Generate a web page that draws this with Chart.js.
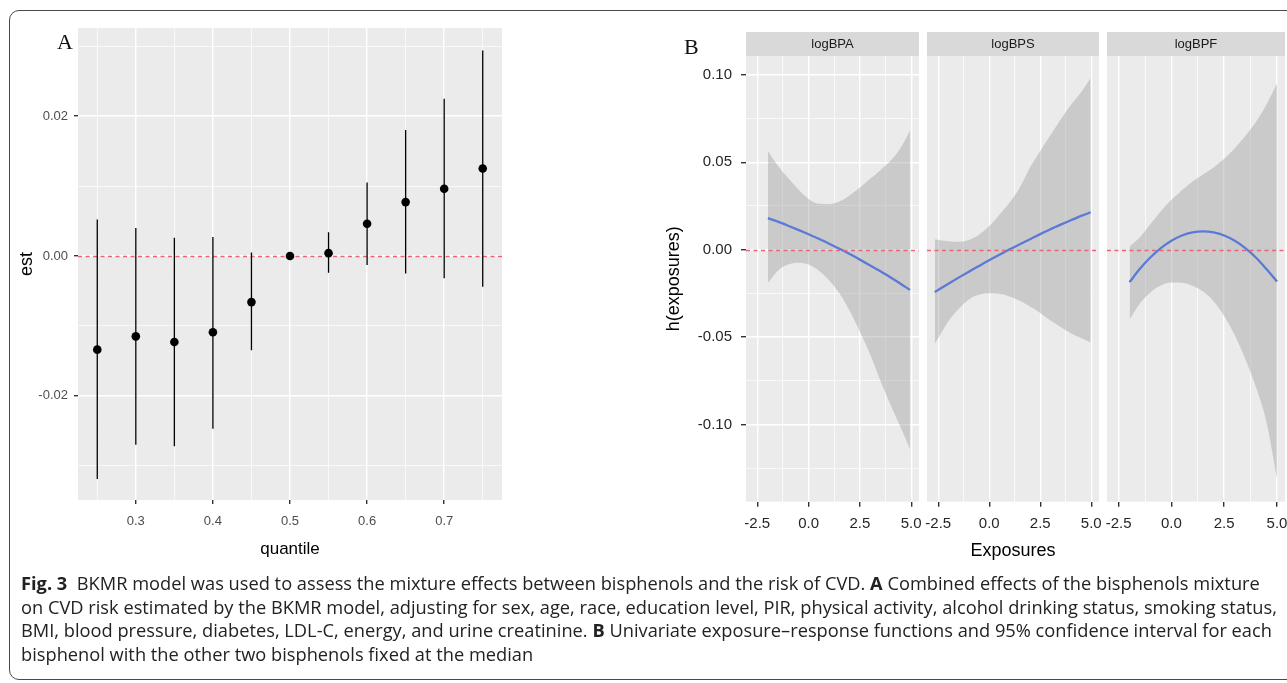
<!DOCTYPE html>
<html><head><meta charset="utf-8">
<script src="https://cdn.jsdelivr.net/npm/chart.js@4.4.1/dist/chart.umd.min.js"></script>
<style>
html,body{margin:0;padding:0;background:#fff;width:1287px;height:683px;overflow:hidden;position:relative;font-family:'Liberation Sans',Arial,sans-serif;}
.frame{position:absolute;left:9px;top:10px;width:1300px;height:670px;border:1.3px solid #4a4a4a;border-radius:10px;box-sizing:border-box;}
canvas{position:absolute;top:0;}
.plabel{position:absolute;font-family:'Liberation Serif','Times New Roman',serif;font-size:22px;color:#111;line-height:1;}
.cap{position:absolute;left:21px;font-family:'Open Sans',sans-serif;font-size:18.5px;color:#222;white-space:nowrap;transform-origin:0 50%;line-height:1;}
</style></head>
<body>
<div class="frame"></div>
<canvas id="cA" width="520" height="570" style="left:0px"></canvas>
<canvas id="cB1" width="264" height="580" style="left:660px"></canvas>
<canvas id="cB2" width="182" height="580" style="left:922px"></canvas>
<canvas id="cB3" width="185" height="580" style="left:1102px"></canvas>
<div class="plabel" style="left:57px;top:31px">A</div>
<div class="plabel" style="left:684px;top:36px">B</div>
<div class="cap" id="l1" style="top:574px"><b>Fig. 3</b>&nbsp; BKMR model was used to assess the mixture effects between bisphenols and the risk of CVD. <b>A</b> Combined effects of the bisphenols mixture</div>
<div class="cap" id="l2" style="top:597.7px">on CVD risk estimated by the BKMR model, adjusting for sex, age, race, education level, PIR, physical activity, alcohol drinking status, smoking status,</div>
<div class="cap" id="l3" style="top:621.4px">BMI, blood pressure, diabetes, LDL-C, energy, and urine creatinine. <b>B</b> Univariate exposure–response functions and 95% confidence interval for each</div>
<div class="cap" id="l4" style="top:645px">bisphenol with the other two bisphenols fixed at the median</div>
<script>
// ---------- Panel A data ----------
const quantiles = [0.25, 0.30, 0.35, 0.40, 0.45, 0.50, 0.55, 0.60, 0.65, 0.70, 0.75];
const est       = [-0.0134, -0.0115, -0.0123, -0.0109, -0.0066, 0.0000, 0.0004, 0.0046, 0.0077, 0.0096, 0.0125];
const lower95   = [-0.0319, -0.0270, -0.0272, -0.0247, -0.0135, -0.0002, -0.0024, -0.0013, -0.0025, -0.0032, -0.0044];
const upper95   = [0.0052, 0.0040, 0.0026, 0.0027, 0.0005, 0.0002, 0.0034, 0.0105, 0.0180, 0.0225, 0.0294];
const xMajorA = [0.3, 0.4, 0.5, 0.6, 0.7];
const xMinorA = [0.25, 0.35, 0.45, 0.55, 0.65, 0.75];
const yMajorA = [-0.02, 0.00, 0.02];
const yMinorA = [-0.03, -0.01, 0.01, 0.03];

// ---------- Panel B data ----------
const facetNames = ['logBPA', 'logBPS', 'logBPF'];
const bpaX     = [-1.98, -1.5, -1, -0.5, 0, 0.5, 1, 1.5, 2, 2.5, 3, 3.5, 4, 4.5, 4.94];
const bpaEst   = [0.0180, 0.0160, 0.0137, 0.0113, 0.0088, 0.0062, 0.0034, 0.0005, -0.0025, -0.0057, -0.0090, -0.0124, -0.0159, -0.0196, -0.0230];
const bpaUpper = [0.0565, 0.0480, 0.0410, 0.0345, 0.0290, 0.0262, 0.0260, 0.0275, 0.0310, 0.0355, 0.0405, 0.0455, 0.0510, 0.0585, 0.0680];
const bpaLower = [-0.0190, -0.0120, -0.0085, -0.0075, -0.0085, -0.0120, -0.0175, -0.0250, -0.0350, -0.0470, -0.0600, -0.0750, -0.0890, -0.1020, -0.1140];
const bpsX     = [-2.67, -2, -1.5, -1, -0.5, 0, 0.5, 1, 1.5, 2, 2.5, 3, 3.5, 4, 4.5, 4.97];
const bpsEst   = [-0.0243, -0.0195, -0.0160, -0.0126, -0.0093, -0.0060, -0.0029, 0.0002, 0.0031, 0.0060, 0.0089, 0.0117, 0.0143, 0.0168, 0.0193, 0.0214];
const bpsUpper = [0.0060, 0.0048, 0.0045, 0.0055, 0.0085, 0.0135, 0.0200, 0.0270, 0.0355, 0.0470, 0.0565, 0.0655, 0.0745, 0.0827, 0.0900, 0.0980];
const bpsLower = [-0.0540, -0.0410, -0.0340, -0.0285, -0.0258, -0.0250, -0.0252, -0.0268, -0.0292, -0.0325, -0.0362, -0.0405, -0.0442, -0.0478, -0.0505, -0.0530];
const bpfX     = [-1.98, -1.5, -1, -0.5, 0, 0.5, 1, 1.5, 2, 2.5, 3, 3.5, 4, 4.5, 5.0];
const bpfEst   = [-0.0186, -0.0111, -0.0045, 0.0009, 0.0051, 0.0081, 0.0099, 0.0105, 0.0099, 0.0081, 0.0051, 0.0009, -0.0045, -0.0111, -0.0182];
const bpfUpper = [0.0020, 0.0070, 0.0145, 0.0220, 0.0285, 0.0340, 0.0390, 0.0430, 0.0470, 0.0520, 0.0580, 0.0650, 0.0730, 0.0830, 0.0950];
const bpfLower = [-0.0400, -0.0310, -0.0245, -0.0205, -0.0188, -0.0190, -0.0207, -0.0240, -0.0295, -0.0380, -0.0490, -0.0625, -0.0785, -0.0985, -0.1310];
const xMajorB = [-2.5, 0.0, 2.5, 5.0];
const xMinorB = [-1.25, 1.25, 3.75];
const yMajorB = [-0.10, -0.05, 0.00, 0.05, 0.10];
const yMinorB = [-0.125, -0.075, -0.025, 0.025, 0.075];

// ---------- helpers ----------
Chart.defaults.animation = false;
Chart.defaults.responsive = false;
Chart.defaults.devicePixelRatio = 1;
Chart.defaults.font.family = "'Liberation Sans', Arial, sans-serif";
const isIn = (v, arr) => arr.some(m => Math.abs(m - v) < 1e-9);

const panelBg = {
  id: 'panelBg',
  beforeDraw(chart) {
    const {ctx, chartArea: a} = chart;
    ctx.save(); ctx.fillStyle = '#ebebeb';
    ctx.fillRect(a.left, a.top, a.width, a.height); ctx.restore();
  }
};
function drawZero(chart) {
  const {ctx, chartArea: a} = chart;
  const y = Math.round(chart.scales.y.getPixelForValue(0)) + 0.5;
  ctx.save(); ctx.strokeStyle = '#ea6677'; ctx.lineWidth = 1.3; ctx.setLineDash([4, 3.5]);
  ctx.beginPath(); ctx.moveTo(a.left, y); ctx.lineTo(a.right, y); ctx.stroke(); ctx.restore();
}
const zeroLine = {id: 'zeroLine', afterDatasetsDraw: drawZero};
const zeroLineBehind = {id: 'zeroLineA', beforeDatasetsDraw: drawZero};
const strip = {
  id: 'strip',
  afterDraw(chart, args, opts) {
    if (!opts || !opts.text) return;
    const {ctx, chartArea: a} = chart;
    ctx.save(); ctx.fillStyle = '#d9d9d9';
    ctx.fillRect(a.left, a.top - 24, a.width, 24);
    ctx.fillStyle = '#1a1a1a'; ctx.font = "13px 'Liberation Sans', Arial, sans-serif";
    ctx.textAlign = 'center'; ctx.textBaseline = 'middle';
    ctx.fillText(opts.text, (a.left + a.right) / 2, a.top - 11.5);
    ctx.restore();
  }
};

function gridScale(majors, minors, fmt, extra) {
  const all = majors.concat(minors).sort((a, b) => a - b);
  return Object.assign({
    type: 'linear',
    afterBuildTicks: s => { s.ticks = all.map(v => ({value: v})); },
    border: {display: false},
    grid: {
      color: '#ffffff',
      lineWidth: c => (c.tick && isIn(c.tick.value, majors)) ? 1.4 : 0.7,
      tickColor: c => (c.tick && isIn(c.tick.value, majors)) ? '#333333' : 'rgba(0,0,0,0)',
      drawTicks: true
    },
    ticks: {autoSkip: false, maxRotation: 0, minRotation: 0,
      callback: v => isIn(v, majors) ? fmt(v) : ''}
  }, extra || {});
}

// ---------- Panel A ----------
const errData = [];
quantiles.forEach((q, i) => {
  errData.push({x: q, y: lower95[i]}, {x: q, y: upper95[i]}, {x: q, y: null});
});
const ptData = quantiles.map((q, i) => ({x: q, y: est[i]}));

const xA = gridScale(xMajorA, xMinorA, v => v.toFixed(1), {min: 0.225, max: 0.775});
xA.grid.tickLength = 4;
xA.ticks.font = {size: 13}; xA.ticks.color = '#4d4d4d'; xA.ticks.padding = 10;
xA.title = {display: true, text: 'quantile', color: '#000', font: {size: 17}, padding: 0};
xA.afterFit = s => { s.height = 59.6; s.paddingLeft = 0; s.paddingRight = 0; };
const yA = gridScale(yMajorA, yMinorA, v => v.toFixed(2), {min: -0.0349, max: 0.0326});
yA.grid.tickLength = 4;
yA.ticks.font = {size: 13}; yA.ticks.color = '#4d4d4d'; yA.ticks.padding = 6;
yA.title = {display: true, text: 'est', color: '#000', font: {size: 18}, padding: 0};
yA.afterFit = s => { s.width = 62; s.paddingTop = 0; s.paddingBottom = 0; };

new Chart(document.getElementById('cA'), {
  type: 'scatter',
  data: {datasets: [
    {data: errData, showLine: true, spanGaps: false, borderColor: '#000', borderWidth: 1.3, pointRadius: 0},
    {data: ptData, pointRadius: 4.3, pointBackgroundColor: '#000', pointBorderWidth: 0}
  ]},
  options: {
    layout: {padding: {left: 16, top: 28, right: 18, bottom: 10.4}},
    plugins: {legend: {display: false}, tooltip: {enabled: false}},
    scales: {x: xA, y: yA}
  },
  plugins: [panelBg, zeroLineBehind]
});

// ---------- Panel B ----------
const facets = [
  {x: bpaX, e: bpaEst, u: bpaUpper, l: bpaLower},
  {x: bpsX, e: bpsEst, u: bpsUpper, l: bpsLower},
  {x: bpfX, e: bpfEst, u: bpfUpper, l: bpfLower}
];
const pads = [{left: 3.2, right: 5}, {left: 5, right: 5}, {left: 5, right: 2}];
['cB1', 'cB2', 'cB3'].forEach((id, k) => {
  const f = facets[k];
  const pts = arr => f.x.map((x, i) => ({x: x, y: arr[i]}));
  const xs = gridScale(xMajorB, xMinorB, v => v.toFixed(1), {min: -3.05, max: 5.38});
  xs.grid.tickLength = 5;
  xs.ticks.font = {size: 15}; xs.ticks.color = '#262626'; xs.ticks.padding = 8.3;
  xs.title = {display: k === 1, text: 'Exposures', color: '#000', font: {size: 18}, padding: 0};
  xs.afterFit = s => { s.height = 60.1; s.paddingLeft = 0; s.paddingRight = 0; };
  const ys = gridScale(yMajorB, yMinorB, v => v.toFixed(2), {min: -0.1442, max: 0.1108});
  ys.grid.tickLength = 5;
  ys.display = k === 0;
  ys.ticks.font = {size: 15}; ys.ticks.color = '#262626'; ys.ticks.padding = 9;
  ys.title = {display: k === 0, text: 'h(exposures)', color: '#000', font: {size: 18}, padding: 0};
  ys.afterFit = s => { s.width = (k === 0) ? 82.8 : 0; s.paddingTop = 0; s.paddingBottom = 0; };
  new Chart(document.getElementById(id), {
    type: 'line',
    data: {datasets: [
      {data: pts(f.u), fill: '+1', backgroundColor: 'rgba(153,153,153,0.4)', borderWidth: 0, pointRadius: 0, cubicInterpolationMode: 'monotone'},
      {data: pts(f.l), fill: false, borderWidth: 0, pointRadius: 0, cubicInterpolationMode: 'monotone'},
      {data: pts(f.e), fill: false, borderColor: '#3366FF', borderWidth: 2.3, pointRadius: 0, cubicInterpolationMode: 'monotone'}
    ]},
    options: {
      layout: {padding: {left: pads[k].left, right: pads[k].right, top: 56, bottom: 18.2}},
      plugins: {legend: {display: false}, tooltip: {enabled: false}, strip: {text: facetNames[k]}},
      scales: {x: xs, y: ys}
    },
    plugins: [panelBg, zeroLine, strip]
  });
});

// ---------- caption fitting ----------
document.fonts.ready.then(() => {
  const w2 = document.getElementById('l2').getBoundingClientRect().width;
  const s = 1256 / w2;
  ['l1', 'l2', 'l3', 'l4'].forEach(id => {
    document.getElementById(id).style.transform = 'scaleX(' + s + ')';
  });
});
</script>
</body></html>
